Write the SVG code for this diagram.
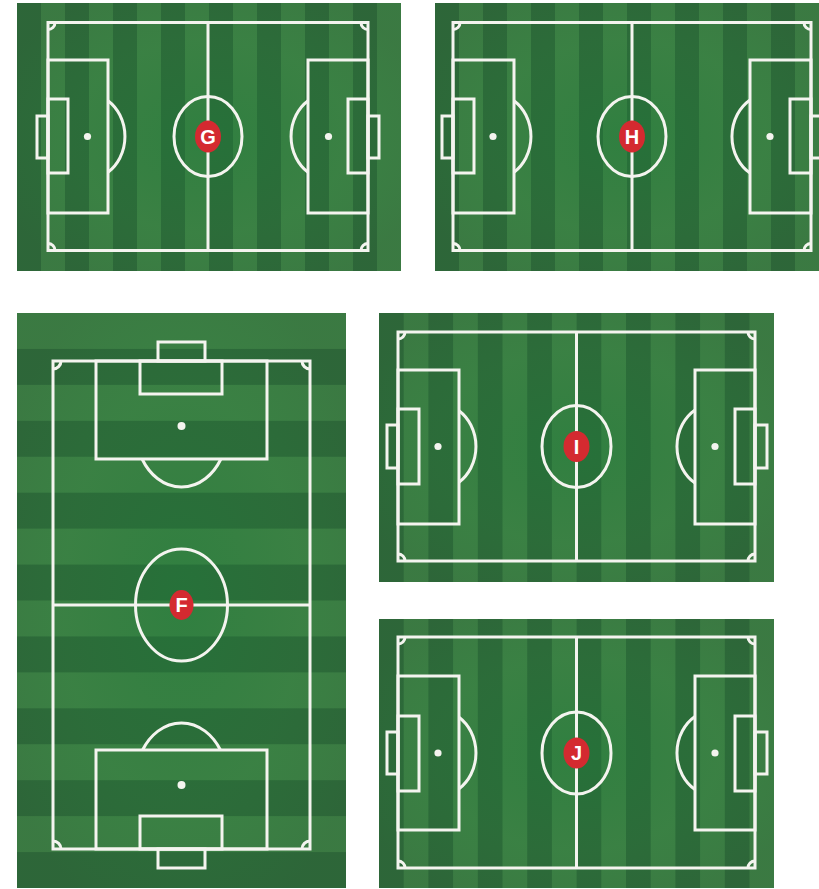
<svg xmlns="http://www.w3.org/2000/svg" width="819" height="889" viewBox="0 0 819 889">
<defs>
<pattern id="vs24" patternUnits="userSpaceOnUse" width="48" height="10">
<rect x="0" y="0" width="24" height="10" fill="#2e6a3a"/>
<rect x="24" y="0" width="24" height="10" fill="#408447"/>
</pattern>
<pattern id="vs25" patternUnits="userSpaceOnUse" width="49.4" height="10">
<rect x="0" y="0" width="24.7" height="10" fill="#2e6a3a"/>
<rect x="24.7" y="0" width="24.7" height="10" fill="#408447"/>
</pattern>
<pattern id="hs36" patternUnits="userSpaceOnUse" width="10" height="71.875">
<rect x="0" y="0" width="10" height="35.94" fill="#408447"/>
<rect x="0" y="35.94" width="10" height="35.94" fill="#2e6a3a"/>
</pattern>
<radialGradient id="glow" cx="0.5" cy="0.5" r="0.6">
<stop offset="0" stop-color="#1c7a38" stop-opacity="0.45"/>
<stop offset="0.6" stop-color="#237436" stop-opacity="0.2"/>
<stop offset="1" stop-color="#2b5a34" stop-opacity="0.25"/>
</radialGradient>
<style>
.ln{fill:none;stroke:#f4f4ef;stroke-width:3}
.spot{fill:#f4f4ef}
.badge{fill:#d42a30}
.lbl{fill:#ffffff;font-family:"Liberation Sans",Arial,sans-serif;font-weight:bold;font-size:20px;text-anchor:middle}
</style>
</defs>
<rect x="0" y="0" width="819" height="889" fill="#ffffff"/>

<!-- Pitch G -->
<g id="pitch-G" transform="translate(17,3)">
<rect x="0" y="0" width="384" height="268" fill="url(#vs24)"/>
<rect x="0" y="0" width="384" height="268" fill="url(#glow)"/>
<rect class="ln" x="31" y="19.5" width="320" height="228"/>
<line class="ln" x1="191" y1="19.5" x2="191" y2="247.5"/>
<ellipse class="ln" cx="191" cy="133.5" rx="34" ry="40"/>
<rect class="ln" x="31" y="57" width="60" height="153"/>
<rect class="ln" x="31" y="96" width="20" height="74"/>
<rect class="ln" x="20" y="113" width="11" height="42"/>
<circle class="spot" cx="70.5" cy="133.5" r="3.6"/>
<path class="ln" d="M91,97.7 A38 43 0 0 1 91,169.3"/>
<rect class="ln" x="291" y="57" width="60" height="153"/>
<rect class="ln" x="331" y="96" width="20" height="74"/>
<rect class="ln" x="351" y="113" width="11" height="42"/>
<circle class="spot" cx="311.5" cy="133.5" r="3.6"/>
<path class="ln" d="M291,97.7 A38 43 0 0 0 291,169.3"/>
<path class="ln" d="M31,26.5 A7 7 0 0 0 38,19.5 M344,19.5 A7 7 0 0 0 351,26.5 M351,240.5 A7 7 0 0 0 344,247.5 M38,247.5 A7 7 0 0 0 31,240.5"/>
<ellipse class="badge" cx="191" cy="133.5" rx="13" ry="16"/>
<text class="lbl" x="191" y="140.5">G</text>
</g>

<!-- Pitch H -->
<g id="pitch-H" transform="translate(435,3)">
<rect x="0" y="0" width="384" height="268" fill="url(#vs24)"/>
<rect x="0" y="0" width="384" height="268" fill="url(#glow)"/>
<rect class="ln" x="18" y="19.5" width="358" height="228"/>
<line class="ln" x1="197" y1="19.5" x2="197" y2="247.5"/>
<ellipse class="ln" cx="197" cy="133.5" rx="34" ry="40"/>
<rect class="ln" x="18" y="57" width="61" height="153"/>
<rect class="ln" x="18" y="96" width="21" height="74"/>
<rect class="ln" x="7" y="113" width="11" height="42"/>
<circle class="spot" cx="58" cy="133.5" r="3.6"/>
<path class="ln" d="M79,97.7 A38 43 0 0 1 79,169.3"/>
<rect class="ln" x="315" y="57" width="61" height="153"/>
<rect class="ln" x="355" y="96" width="21" height="74"/>
<rect class="ln" x="376" y="113" width="11" height="42"/>
<circle class="spot" cx="335" cy="133.5" r="3.6"/>
<path class="ln" d="M315,96.9 A38 43 0 0 0 315,170.1"/>
<path class="ln" d="M18,26.5 A7 7 0 0 0 25,19.5 M369,19.5 A7 7 0 0 0 376,26.5 M376,240.5 A7 7 0 0 0 369,247.5 M25,247.5 A7 7 0 0 0 18,240.5"/>
<ellipse class="badge" cx="197" cy="133.5" rx="13" ry="16"/>
<text class="lbl" x="197" y="140.5">H</text>
</g>

<!-- Pitch F -->
<g id="pitch-F" transform="translate(17,313)">
<rect x="0" y="0" width="329" height="575" fill="url(#hs36)"/>
<rect x="0" y="0" width="329" height="575" fill="url(#glow)"/>
<rect class="ln" x="36" y="48" width="257" height="488"/>
<line class="ln" x1="36" y1="292" x2="293" y2="292"/>
<ellipse class="ln" cx="164.5" cy="292" rx="46" ry="56"/>
<rect class="ln" x="79" y="48" width="171" height="98"/>
<rect class="ln" x="123" y="48" width="82" height="33"/>
<rect class="ln" x="141" y="29" width="47" height="19"/>
<circle class="spot" cx="164.5" cy="113" r="4"/>
<path class="ln" d="M125.1,146 A46 58 0 0 0 203.9,146"/>
<rect class="ln" x="79" y="437" width="171" height="99"/>
<rect class="ln" x="123" y="503" width="82" height="33"/>
<rect class="ln" x="141" y="536" width="47" height="19"/>
<circle class="spot" cx="164.5" cy="472" r="4"/>
<path class="ln" d="M125.6,437 A46 58 0 0 1 203.4,437"/>
<path class="ln" d="M36,56 A8 8 0 0 0 44,48 M285,48 A8 8 0 0 0 293,56 M293,528 A8 8 0 0 0 285,536 M44,536 A8 8 0 0 0 36,528"/>
<ellipse class="badge" cx="164.5" cy="292" rx="12" ry="15"/>
<text class="lbl" x="164.5" y="299">F</text>
</g>

<!-- Pitch I -->
<g id="pitch-I" transform="translate(379,313)">
<rect x="0" y="0" width="395" height="269" fill="url(#vs25)"/>
<rect x="0" y="0" width="395" height="269" fill="url(#glow)"/>
<rect class="ln" x="19" y="19" width="357" height="229"/>
<line class="ln" x1="197.5" y1="19" x2="197.5" y2="248"/>
<ellipse class="ln" cx="197.5" cy="133.5" rx="34.5" ry="41"/>
<rect class="ln" x="19" y="57" width="61" height="154"/>
<rect class="ln" x="19" y="96" width="21" height="75"/>
<rect class="ln" x="8" y="112" width="11" height="43"/>
<circle class="spot" cx="59" cy="133.5" r="3.6"/>
<path class="ln" d="M80,97.7 A38 43 0 0 1 80,169.3"/>
<rect class="ln" x="316" y="57" width="60" height="154"/>
<rect class="ln" x="356" y="96" width="20" height="75"/>
<rect class="ln" x="376" y="112" width="12" height="43"/>
<circle class="spot" cx="336" cy="133.5" r="3.6"/>
<path class="ln" d="M316,96.9 A38 43 0 0 0 316,170.1"/>
<path class="ln" d="M19,26 A7 7 0 0 0 26,19 M369,19 A7 7 0 0 0 376,26 M376,241 A7 7 0 0 0 369,248 M26,248 A7 7 0 0 0 19,241"/>
<ellipse class="badge" cx="197.5" cy="133.5" rx="13" ry="15.5"/>
<text class="lbl" x="197.5" y="140.5">I</text>
</g>

<!-- Pitch J -->
<g id="pitch-J" transform="translate(379,619)">
<rect x="0" y="0" width="395" height="269" fill="url(#vs25)"/>
<rect x="0" y="0" width="395" height="269" fill="url(#glow)"/>
<rect class="ln" x="19" y="18" width="357" height="231"/>
<line class="ln" x1="197.5" y1="18" x2="197.5" y2="249"/>
<ellipse class="ln" cx="197.5" cy="134" rx="34.5" ry="41"/>
<rect class="ln" x="19" y="57" width="61" height="154"/>
<rect class="ln" x="19" y="97" width="21" height="75"/>
<rect class="ln" x="8" y="113" width="11" height="42"/>
<circle class="spot" cx="59" cy="134" r="3.6"/>
<path class="ln" d="M80,98.2 A38 43 0 0 1 80,169.8"/>
<rect class="ln" x="316" y="57" width="60" height="154"/>
<rect class="ln" x="356" y="97" width="20" height="75"/>
<rect class="ln" x="376" y="113" width="12" height="42"/>
<circle class="spot" cx="336" cy="134" r="3.6"/>
<path class="ln" d="M316,97.4 A38 43 0 0 0 316,170.6"/>
<path class="ln" d="M19,25 A7 7 0 0 0 26,18 M369,18 A7 7 0 0 0 376,25 M376,242 A7 7 0 0 0 369,249 M26,249 A7 7 0 0 0 19,242"/>
<ellipse class="badge" cx="197.5" cy="134" rx="13" ry="15.5"/>
<text class="lbl" x="197.5" y="141">J</text>
</g>
</svg>
